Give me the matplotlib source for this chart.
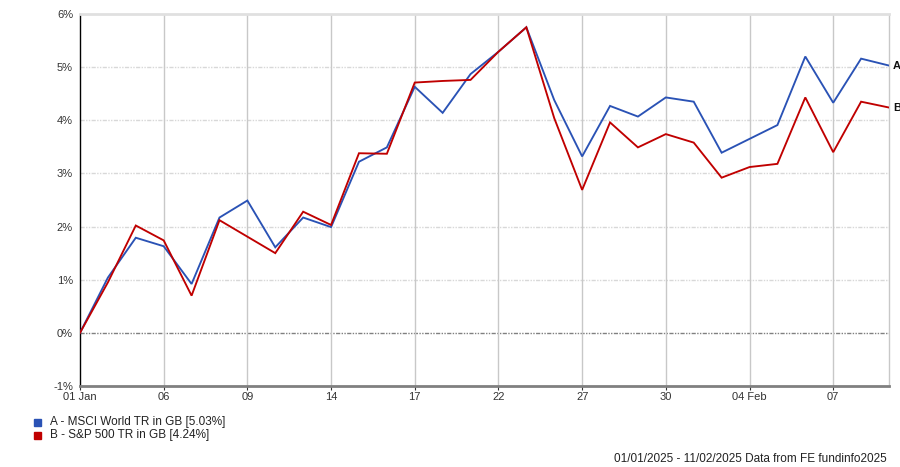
import matplotlib
matplotlib.use("Agg")
import matplotlib.pyplot as plt
from matplotlib.patches import Rectangle

plt.rcParams["font.family"] = ["Liberation Sans", "DejaVu Sans"]

# trading days, 01 Jan 2025 - 11 Feb 2025
DATES = [
    "01 Jan", "02 Jan", "03 Jan", "06 Jan", "07 Jan", "08 Jan", "09 Jan", "10 Jan",
    "13 Jan", "14 Jan", "15 Jan", "16 Jan", "17 Jan", "20 Jan", "21 Jan", "22 Jan",
    "23 Jan", "24 Jan", "27 Jan", "28 Jan", "29 Jan", "30 Jan", "31 Jan", "03 Feb",
    "04 Feb", "05 Feb", "06 Feb", "07 Feb", "10 Feb", "11 Feb",
]
MSCI_WORLD = [
    0.00, 1.04, 1.79, 1.63, 0.92, 2.17, 2.49, 1.61, 2.17, 1.99,
    3.22, 3.49, 4.63, 4.14, 4.87, 5.29, 5.75, 4.38, 3.32, 4.27,
    4.07, 4.43, 4.35, 3.39, 3.65, 3.91, 5.20, 4.33, 5.16, 5.03,
]
SP500 = [
    0.00, 0.95, 2.02, 1.74, 0.70, 2.12, 1.81, 1.50, 2.28, 2.03,
    3.38, 3.37, 4.71, 4.74, 4.76, 5.29, 5.75, 4.04, 2.69, 3.96,
    3.49, 3.74, 3.58, 2.92, 3.12, 3.18, 4.43, 3.40, 4.35, 4.24,
]
TICK_DATES = ["01 Jan", "06 Jan", "09 Jan", "14 Jan", "17 Jan", "22 Jan",
              "27 Jan", "30 Jan", "04 Feb", "07 Feb"]
TICK_LABELS = ["01 Jan", "06", "09", "14", "17", "22", "27", "30", "04 Feb", "07"]
Y_TICKS = [-1, 0, 1, 2, 3, 4, 5, 6]

SERIES = [
    ("A", "A - MSCI World TR in GB [5.03%]", MSCI_WORLD, "#2a52b5"),
    ("B", "B - S&P 500 TR in GB [4.24%]", SP500, "#c00000"),
]

W, H = 900, 467
fig = plt.figure(figsize=(W / 100, H / 100), dpi=100)
ax = fig.add_axes([80 / W, 1 - 386 / H, (889 - 80) / W, (386 - 14) / H])

x = list(range(len(DATES)))
ax.set_xlim(0, len(DATES) - 1)
ax.set_ylim(-1, 6)

dotted = (0, (3, 1, 1, 1, 1, 1))
for y in Y_TICKS:
    if y == 0:
        ax.axhline(y, color="#808080", lw=1.0, ls=dotted, zorder=1)
    elif -1 < y < 6:
        ax.axhline(y, color="#d8d8d8", lw=1.0, ls=dotted, zorder=1)

tick_pos = [DATES.index(d) for d in TICK_DATES]
for p in tick_pos[1:]:
    ax.axvline(p, color="#c8c8c8", lw=1.0, zorder=1)

for tag, label, values, color in SERIES:
    ax.plot(x, values, color=color, lw=1.35, zorder=3, solid_joinstyle="miter")
    ax.annotate(tag, xy=(x[-1], values[-1]), xytext=(3, 0), textcoords="offset points",
                ha="left", va="center", fontsize=8, fontweight="bold", color="#111111",
                annotation_clip=False)

ax.set_xticks(tick_pos)
ax.set_xticklabels(TICK_LABELS)
ax.set_yticks(Y_TICKS)
ax.set_yticklabels([f"{v}%" for v in Y_TICKS])
ax.tick_params(axis="both", labelsize=8, colors="#333333", length=3, width=0.8)
ax.tick_params(axis="y", length=0, pad=5)
ax.tick_params(axis="x", pad=1)

ax.spines["left"].set_color("#000000")
ax.spines["left"].set_linewidth(1.0)
ax.spines["bottom"].set_color("#808080")
ax.spines["bottom"].set_linewidth(2.0)
ax.spines["right"].set_color("#c8c8c8")
ax.spines["right"].set_linewidth(1.0)
ax.spines["top"].set_color("#e0e0e0")
ax.spines["top"].set_linewidth(2.0)

# legend block under the chart
for i, (tag, label, values, color) in enumerate(SERIES):
    yc = 422 + i * 13
    fig.patches.append(Rectangle((34 / W, 1 - (yc + 3.5) / H), 7 / W, 7 / H,
                                 transform=fig.transFigure, color=color))
    fig.text(50 / W, 1 - yc / H, label, fontsize=8.5, color="#222222",
             ha="left", va="center")

fig.text(887 / W, 1 - 459 / H, "01/01/2025 - 11/02/2025 Data from FE fundinfo2025",
         fontsize=8.5, color="#222222", ha="right", va="center")

fig.savefig("out.png", dpi=100)
